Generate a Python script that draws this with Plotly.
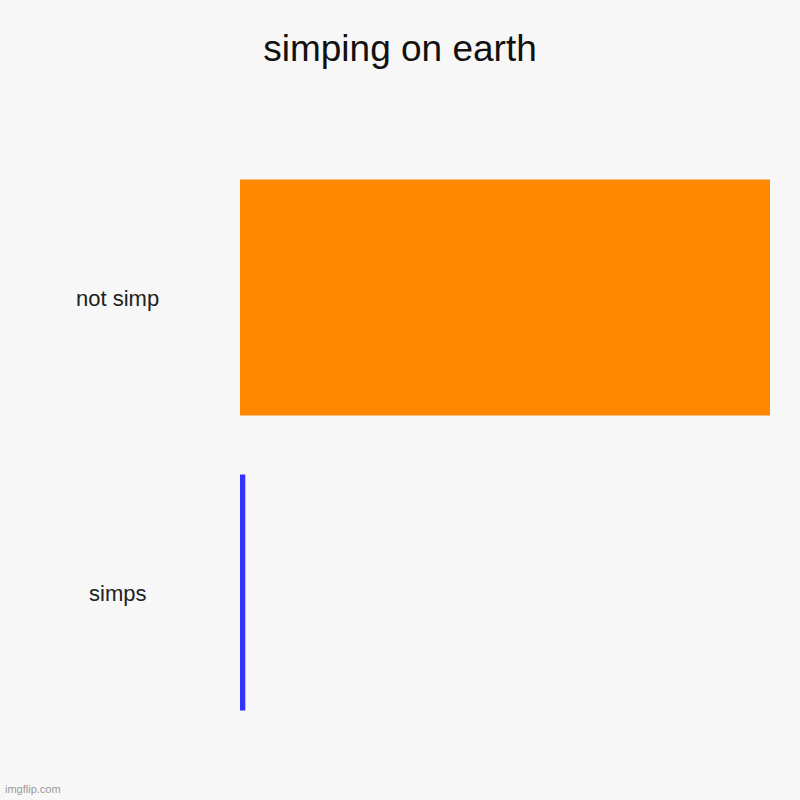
import plotly.graph_objects as go

categories = ["not simp", "simps"]
values = [100, 1]
colors = ["#ff8800", "#3333ff"]

fig = go.Figure(go.Bar(
    x=values,
    y=categories,
    orientation="h",
    marker=dict(color=colors, line=dict(width=0)),
))

# category labels are centred in the left margin, so draw them as annotations
for cat in categories:
    fig.add_annotation(
        x=-0.232, xref="paper", y=cat, yref="y", yshift=-1,
        text=cat, showarrow=False, xanchor="center",
        font=dict(size=22, color="#222222"),
    )

fig.add_annotation(
    x=0, xref="paper", y=0, yref="paper",
    xshift=-237, yshift=-57,
    text="imgflip.com", showarrow=False, xanchor="left", yanchor="bottom",
    font=dict(size=11, color="#999999"),
)

fig.update_layout(
    width=800, height=800,
    title=dict(text="simping on earth", x=0.5, xanchor="center", y=0.94, yanchor="middle",
               font=dict(size=37, color="#111111")),
    font=dict(family="Liberation Sans, Arial, sans-serif"),
    paper_bgcolor="#f7f7f7",
    plot_bgcolor="#f7f7f7",
    margin=dict(l=240, r=30, t=150, b=60),
    bargap=0.2,
    showlegend=False,
    xaxis=dict(range=[0, 100], visible=False),
    yaxis=dict(autorange="reversed", showticklabels=False, showgrid=False,
               zeroline=False, showline=False, ticks=""),
)

fig.write_html("out.html", config={"displayModeBar": False},
               post_script="document.body.style.margin='0';")
